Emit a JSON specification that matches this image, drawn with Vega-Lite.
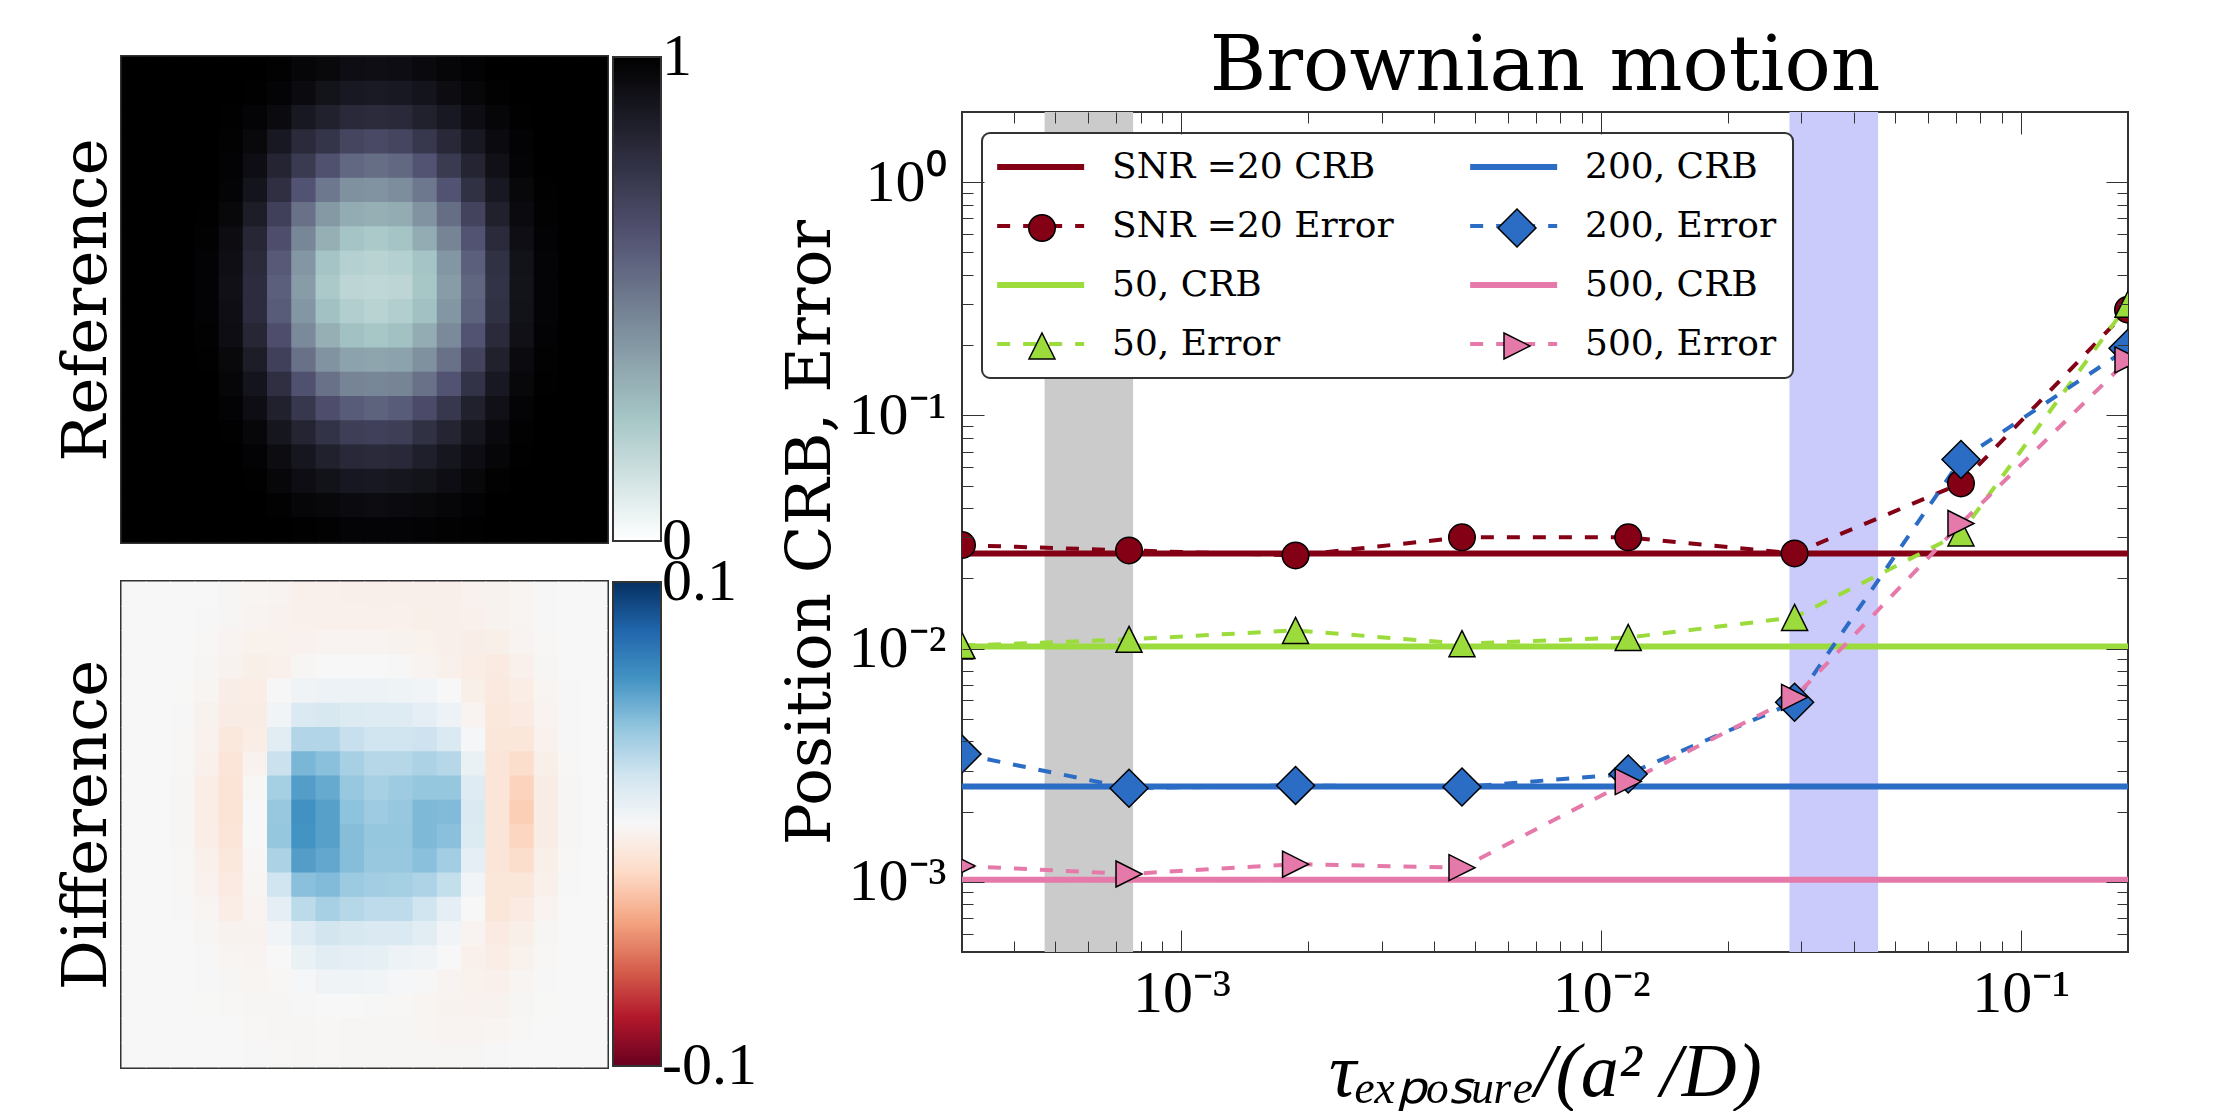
{"$schema":"https://vega.github.io/schema/vega-lite/v6.json","padding":{"left":53,"top":26,"right":0,"bottom":0},"background":"white","spacing":19,"columns":2,"align":"none","resolve":{"scale":{"fill":"independent","shape":"independent","stroke":"independent","strokeDash":"independent","strokeWidth":"independent"},"legend":{"fill":"independent","shape":"independent","stroke":"independent","strokeDash":"independent","strokeWidth":"independent"}},"config":{"legend":{"strokeWidth":2},"axis":{"labelFontWeight":"normal","titleFontWeight":"normal"},"view":{"stroke":"#333","strokeWidth":2}},"concat":[{"bounds":"flush","resolve":{"scale":{"fill":"independent"},"legend":{"fill":"independent"}},"vconcat":[
{"width":485,"height":485,"view":{"stroke":"#333","strokeWidth":4},"data":{"values":[
{"r":0,"c":0,"v":1},{"r":0,"c":1,"v":1},{"r":0,"c":2,"v":1},{"r":0,"c":3,"v":1},{"r":0,"c":4,"v":1},{"r":0,"c":5,"v":1},{"r":0,"c":6,"v":0.99},{"r":0,"c":7,"v":0.975},{"r":0,"c":8,"v":0.96},{"r":0,"c":9,"v":0.94},{"r":0,"c":10,"v":0.935},{"r":0,"c":11,"v":0.94},{"r":0,"c":12,"v":0.955},{"r":0,"c":13,"v":0.975},{"r":0,"c":14,"v":0.985},{"r":0,"c":15,"v":1},{"r":0,"c":16,"v":1},{"r":0,"c":17,"v":1},{"r":0,"c":18,"v":1},{"r":0,"c":19,"v":1},
{"r":1,"c":0,"v":1},{"r":1,"c":1,"v":1},{"r":1,"c":2,"v":1},{"r":1,"c":3,"v":1},{"r":1,"c":4,"v":1},{"r":1,"c":5,"v":0.995},{"r":1,"c":6,"v":0.98},{"r":1,"c":7,"v":0.95},{"r":1,"c":8,"v":0.915},{"r":1,"c":9,"v":0.89},{"r":1,"c":10,"v":0.885},{"r":1,"c":11,"v":0.89},{"r":1,"c":12,"v":0.91},{"r":1,"c":13,"v":0.945},{"r":1,"c":14,"v":0.97},{"r":1,"c":15,"v":0.99},{"r":1,"c":16,"v":1},{"r":1,"c":17,"v":1},{"r":1,"c":18,"v":1},{"r":1,"c":19,"v":1},
{"r":2,"c":0,"v":1},{"r":2,"c":1,"v":1},{"r":2,"c":2,"v":1},{"r":2,"c":3,"v":1},{"r":2,"c":4,"v":0.995},{"r":2,"c":5,"v":0.98},{"r":2,"c":6,"v":0.95},{"r":2,"c":7,"v":0.89},{"r":2,"c":8,"v":0.85},{"r":2,"c":9,"v":0.815},{"r":2,"c":10,"v":0.805},{"r":2,"c":11,"v":0.815},{"r":2,"c":12,"v":0.85},{"r":2,"c":13,"v":0.89},{"r":2,"c":14,"v":0.94},{"r":2,"c":15,"v":0.975},{"r":2,"c":16,"v":0.995},{"r":2,"c":17,"v":1},{"r":2,"c":18,"v":1},{"r":2,"c":19,"v":1},
{"r":3,"c":0,"v":1},{"r":3,"c":1,"v":1},{"r":3,"c":2,"v":1},{"r":3,"c":3,"v":1},{"r":3,"c":4,"v":0.99},{"r":3,"c":5,"v":0.96},{"r":3,"c":6,"v":0.89},{"r":3,"c":7,"v":0.81},{"r":3,"c":8,"v":0.76},{"r":3,"c":9,"v":0.69},{"r":3,"c":10,"v":0.67},{"r":3,"c":11,"v":0.69},{"r":3,"c":12,"v":0.75},{"r":3,"c":13,"v":0.82},{"r":3,"c":14,"v":0.89},{"r":3,"c":15,"v":0.95},{"r":3,"c":16,"v":0.985},{"r":3,"c":17,"v":1},{"r":3,"c":18,"v":1},{"r":3,"c":19,"v":1},
{"r":4,"c":0,"v":1},{"r":4,"c":1,"v":1},{"r":4,"c":2,"v":1},{"r":4,"c":3,"v":1},{"r":4,"c":4,"v":0.985},{"r":4,"c":5,"v":0.94},{"r":4,"c":6,"v":0.84},{"r":4,"c":7,"v":0.74},{"r":4,"c":8,"v":0.64},{"r":4,"c":9,"v":0.56},{"r":4,"c":10,"v":0.54},{"r":4,"c":11,"v":0.56},{"r":4,"c":12,"v":0.63},{"r":4,"c":13,"v":0.74},{"r":4,"c":14,"v":0.84},{"r":4,"c":15,"v":0.93},{"r":4,"c":16,"v":0.98},{"r":4,"c":17,"v":1},{"r":4,"c":18,"v":1},{"r":4,"c":19,"v":1},
{"r":5,"c":0,"v":1},{"r":5,"c":1,"v":1},{"r":5,"c":2,"v":1},{"r":5,"c":3,"v":1},{"r":5,"c":4,"v":0.98},{"r":5,"c":5,"v":0.91},{"r":5,"c":6,"v":0.79},{"r":5,"c":7,"v":0.63},{"r":5,"c":8,"v":0.51},{"r":5,"c":9,"v":0.43},{"r":5,"c":10,"v":0.42},{"r":5,"c":11,"v":0.44},{"r":5,"c":12,"v":0.51},{"r":5,"c":13,"v":0.63},{"r":5,"c":14,"v":0.78},{"r":5,"c":15,"v":0.89},{"r":5,"c":16,"v":0.965},{"r":5,"c":17,"v":0.995},{"r":5,"c":18,"v":1},{"r":5,"c":19,"v":1},
{"r":6,"c":0,"v":1},{"r":6,"c":1,"v":1},{"r":6,"c":2,"v":1},{"r":6,"c":3,"v":0.995},{"r":6,"c":4,"v":0.965},{"r":6,"c":5,"v":0.87},{"r":6,"c":6,"v":0.71},{"r":6,"c":7,"v":0.53},{"r":6,"c":8,"v":0.4},{"r":6,"c":9,"v":0.34},{"r":6,"c":10,"v":0.33},{"r":6,"c":11,"v":0.34},{"r":6,"c":12,"v":0.42},{"r":6,"c":13,"v":0.54},{"r":6,"c":14,"v":0.7},{"r":6,"c":15,"v":0.85},{"r":6,"c":16,"v":0.95},{"r":6,"c":17,"v":0.99},{"r":6,"c":18,"v":1},{"r":6,"c":19,"v":1},
{"r":7,"c":0,"v":1},{"r":7,"c":1,"v":1},{"r":7,"c":2,"v":1},{"r":7,"c":3,"v":0.99},{"r":7,"c":4,"v":0.945},{"r":7,"c":5,"v":0.83},{"r":7,"c":6,"v":0.65},{"r":7,"c":7,"v":0.46},{"r":7,"c":8,"v":0.33},{"r":7,"c":9,"v":0.26},{"r":7,"c":10,"v":0.24},{"r":7,"c":11,"v":0.26},{"r":7,"c":12,"v":0.34},{"r":7,"c":13,"v":0.47},{"r":7,"c":14,"v":0.63},{"r":7,"c":15,"v":0.81},{"r":7,"c":16,"v":0.935},{"r":7,"c":17,"v":0.985},{"r":7,"c":18,"v":1},{"r":7,"c":19,"v":1},
{"r":8,"c":0,"v":1},{"r":8,"c":1,"v":1},{"r":8,"c":2,"v":1},{"r":8,"c":3,"v":0.985},{"r":8,"c":4,"v":0.935},{"r":8,"c":5,"v":0.81},{"r":8,"c":6,"v":0.61},{"r":8,"c":7,"v":0.41},{"r":8,"c":8,"v":0.26},{"r":8,"c":9,"v":0.21},{"r":8,"c":10,"v":0.2},{"r":8,"c":11,"v":0.21},{"r":8,"c":12,"v":0.26},{"r":8,"c":13,"v":0.41},{"r":8,"c":14,"v":0.59},{"r":8,"c":15,"v":0.78},{"r":8,"c":16,"v":0.92},{"r":8,"c":17,"v":0.98},{"r":8,"c":18,"v":1},{"r":8,"c":19,"v":1},
{"r":9,"c":0,"v":1},{"r":9,"c":1,"v":1},{"r":9,"c":2,"v":1},{"r":9,"c":3,"v":0.985},{"r":9,"c":4,"v":0.93},{"r":9,"c":5,"v":0.8},{"r":9,"c":6,"v":0.59},{"r":9,"c":7,"v":0.39},{"r":9,"c":8,"v":0.24},{"r":9,"c":9,"v":0.185},{"r":9,"c":10,"v":0.18},{"r":9,"c":11,"v":0.185},{"r":9,"c":12,"v":0.25},{"r":9,"c":13,"v":0.39},{"r":9,"c":14,"v":0.57},{"r":9,"c":15,"v":0.77},{"r":9,"c":16,"v":0.915},{"r":9,"c":17,"v":0.98},{"r":9,"c":18,"v":1},{"r":9,"c":19,"v":1},
{"r":10,"c":0,"v":1},{"r":10,"c":1,"v":1},{"r":10,"c":2,"v":1},{"r":10,"c":3,"v":0.985},{"r":10,"c":4,"v":0.935},{"r":10,"c":5,"v":0.8},{"r":10,"c":6,"v":0.6},{"r":10,"c":7,"v":0.41},{"r":10,"c":8,"v":0.27},{"r":10,"c":9,"v":0.22},{"r":10,"c":10,"v":0.2},{"r":10,"c":11,"v":0.22},{"r":10,"c":12,"v":0.27},{"r":10,"c":13,"v":0.41},{"r":10,"c":14,"v":0.58},{"r":10,"c":15,"v":0.78},{"r":10,"c":16,"v":0.92},{"r":10,"c":17,"v":0.98},{"r":10,"c":18,"v":1},{"r":10,"c":19,"v":1},
{"r":11,"c":0,"v":1},{"r":11,"c":1,"v":1},{"r":11,"c":2,"v":1},{"r":11,"c":3,"v":0.99},{"r":11,"c":4,"v":0.94},{"r":11,"c":5,"v":0.83},{"r":11,"c":6,"v":0.65},{"r":11,"c":7,"v":0.45},{"r":11,"c":8,"v":0.33},{"r":11,"c":9,"v":0.27},{"r":11,"c":10,"v":0.25},{"r":11,"c":11,"v":0.27},{"r":11,"c":12,"v":0.34},{"r":11,"c":13,"v":0.45},{"r":11,"c":14,"v":0.63},{"r":11,"c":15,"v":0.81},{"r":11,"c":16,"v":0.93},{"r":11,"c":17,"v":0.985},{"r":11,"c":18,"v":1},{"r":11,"c":19,"v":1},
{"r":12,"c":0,"v":1},{"r":12,"c":1,"v":1},{"r":12,"c":2,"v":1},{"r":12,"c":3,"v":0.995},{"r":12,"c":4,"v":0.96},{"r":12,"c":5,"v":0.87},{"r":12,"c":6,"v":0.71},{"r":12,"c":7,"v":0.53},{"r":12,"c":8,"v":0.42},{"r":12,"c":9,"v":0.37},{"r":12,"c":10,"v":0.36},{"r":12,"c":11,"v":0.37},{"r":12,"c":12,"v":0.43},{"r":12,"c":13,"v":0.53},{"r":12,"c":14,"v":0.7},{"r":12,"c":15,"v":0.85},{"r":12,"c":16,"v":0.95},{"r":12,"c":17,"v":0.99},{"r":12,"c":18,"v":1},{"r":12,"c":19,"v":1},
{"r":13,"c":0,"v":1},{"r":13,"c":1,"v":1},{"r":13,"c":2,"v":1},{"r":13,"c":3,"v":1},{"r":13,"c":4,"v":0.975},{"r":13,"c":5,"v":0.91},{"r":13,"c":6,"v":0.79},{"r":13,"c":7,"v":0.64},{"r":13,"c":8,"v":0.53},{"r":13,"c":9,"v":0.47},{"r":13,"c":10,"v":0.46},{"r":13,"c":11,"v":0.47},{"r":13,"c":12,"v":0.53},{"r":13,"c":13,"v":0.63},{"r":13,"c":14,"v":0.77},{"r":13,"c":15,"v":0.89},{"r":13,"c":16,"v":0.965},{"r":13,"c":17,"v":0.995},{"r":13,"c":18,"v":1},{"r":13,"c":19,"v":1},
{"r":14,"c":0,"v":1},{"r":14,"c":1,"v":1},{"r":14,"c":2,"v":1},{"r":14,"c":3,"v":1},{"r":14,"c":4,"v":0.985},{"r":14,"c":5,"v":0.94},{"r":14,"c":6,"v":0.85},{"r":14,"c":7,"v":0.75},{"r":14,"c":8,"v":0.65},{"r":14,"c":9,"v":0.6},{"r":14,"c":10,"v":0.58},{"r":14,"c":11,"v":0.6},{"r":14,"c":12,"v":0.66},{"r":14,"c":13,"v":0.75},{"r":14,"c":14,"v":0.85},{"r":14,"c":15,"v":0.93},{"r":14,"c":16,"v":0.98},{"r":14,"c":17,"v":1},{"r":14,"c":18,"v":1},{"r":14,"c":19,"v":1},
{"r":15,"c":0,"v":1},{"r":15,"c":1,"v":1},{"r":15,"c":2,"v":1},{"r":15,"c":3,"v":1},{"r":15,"c":4,"v":0.995},{"r":15,"c":5,"v":0.97},{"r":15,"c":6,"v":0.9},{"r":15,"c":7,"v":0.84},{"r":15,"c":8,"v":0.77},{"r":15,"c":9,"v":0.72},{"r":15,"c":10,"v":0.71},{"r":15,"c":11,"v":0.72},{"r":15,"c":12,"v":0.78},{"r":15,"c":13,"v":0.84},{"r":15,"c":14,"v":0.9},{"r":15,"c":15,"v":0.955},{"r":15,"c":16,"v":0.99},{"r":15,"c":17,"v":1},{"r":15,"c":18,"v":1},{"r":15,"c":19,"v":1},
{"r":16,"c":0,"v":1},{"r":16,"c":1,"v":1},{"r":16,"c":2,"v":1},{"r":16,"c":3,"v":1},{"r":16,"c":4,"v":1},{"r":16,"c":5,"v":0.985},{"r":16,"c":6,"v":0.945},{"r":16,"c":7,"v":0.9},{"r":16,"c":8,"v":0.85},{"r":16,"c":9,"v":0.82},{"r":16,"c":10,"v":0.81},{"r":16,"c":11,"v":0.82},{"r":16,"c":12,"v":0.86},{"r":16,"c":13,"v":0.9},{"r":16,"c":14,"v":0.94},{"r":16,"c":15,"v":0.975},{"r":16,"c":16,"v":0.995},{"r":16,"c":17,"v":1},{"r":16,"c":18,"v":1},{"r":16,"c":19,"v":1},
{"r":17,"c":0,"v":1},{"r":17,"c":1,"v":1},{"r":17,"c":2,"v":1},{"r":17,"c":3,"v":1},{"r":17,"c":4,"v":1},{"r":17,"c":5,"v":0.995},{"r":17,"c":6,"v":0.97},{"r":17,"c":7,"v":0.94},{"r":17,"c":8,"v":0.92},{"r":17,"c":9,"v":0.895},{"r":17,"c":10,"v":0.89},{"r":17,"c":11,"v":0.9},{"r":17,"c":12,"v":0.915},{"r":17,"c":13,"v":0.94},{"r":17,"c":14,"v":0.965},{"r":17,"c":15,"v":0.99},{"r":17,"c":16,"v":1},{"r":17,"c":17,"v":1},{"r":17,"c":18,"v":1},{"r":17,"c":19,"v":1},
{"r":18,"c":0,"v":1},{"r":18,"c":1,"v":1},{"r":18,"c":2,"v":1},{"r":18,"c":3,"v":1},{"r":18,"c":4,"v":1},{"r":18,"c":5,"v":1},{"r":18,"c":6,"v":0.99},{"r":18,"c":7,"v":0.975},{"r":18,"c":8,"v":0.965},{"r":18,"c":9,"v":0.95},{"r":18,"c":10,"v":0.945},{"r":18,"c":11,"v":0.95},{"r":18,"c":12,"v":0.96},{"r":18,"c":13,"v":0.975},{"r":18,"c":14,"v":0.985},{"r":18,"c":15,"v":1},{"r":18,"c":16,"v":1},{"r":18,"c":17,"v":1},{"r":18,"c":18,"v":1},{"r":18,"c":19,"v":1},
{"r":19,"c":0,"v":1},{"r":19,"c":1,"v":1},{"r":19,"c":2,"v":1},{"r":19,"c":3,"v":1},{"r":19,"c":4,"v":1},{"r":19,"c":5,"v":1},{"r":19,"c":6,"v":1},{"r":19,"c":7,"v":0.995},{"r":19,"c":8,"v":0.99},{"r":19,"c":9,"v":0.98},{"r":19,"c":10,"v":0.98},{"r":19,"c":11,"v":0.98},{"r":19,"c":12,"v":0.985},{"r":19,"c":13,"v":0.99},{"r":19,"c":14,"v":0.995},{"r":19,"c":15,"v":1},{"r":19,"c":16,"v":1},{"r":19,"c":17,"v":1},{"r":19,"c":18,"v":1},{"r":19,"c":19,"v":1}
]},"mark":{"type":"rect","width":{"band":1.04},"height":{"band":1.04}},"encoding":{"x":{"field":"c","type":"ordinal","axis":null,"scale":{"domain":[0,1,2,3,4,5,6,7,8,9,10,11,12,13,14,15,16,17,18,19],"paddingInner":0,"paddingOuter":0}},"y":{"field":"r","type":"ordinal","scale":{"domain":[0,1,2,3,4,5,6,7,8,9,10,11,12,13,14,15,16,17,18,19],"paddingInner":0,"paddingOuter":0},"axis":{"title":"Reference","labels":false,"ticks":false,"domain":false,"titleFont":"DejaVu Serif","titleFontSize":62.5,"titleColor":"#000","titlePadding":4}},"fill":{"field":"v","type":"quantitative","scale":{"domain":[0,0.254,0.635,1],"range":["#ffffff","#a6c6c6","#515171","#000000"],"interpolate":"rgb"},"legend":{"type":"gradient","orient":"none","legendX":491,"legendY":0,"title":null,"values":[0,1],"format":"d","gradientLength":484,"gradientThickness":48,"gradientStrokeColor":"#333","gradientStrokeWidth":2,"labelFont":"Liberation Serif","labelFontSize":60,"labelColor":"#000","labelOffset":1,"labelOverlap":false,"encoding":{"labels":{"baseline":{"value":"middle"}}}}}}},
{"width":485,"height":485,"view":{"stroke":"#333","strokeWidth":4},"data":{"values":[
{"r":0,"c":0,"v":0},{"r":0,"c":1,"v":0},{"r":0,"c":2,"v":0},{"r":0,"c":3,"v":0},{"r":0,"c":4,"v":-0.0015},{"r":0,"c":5,"v":-0.002},{"r":0,"c":6,"v":-0.003},{"r":0,"c":7,"v":-0.005},{"r":0,"c":8,"v":-0.005},{"r":0,"c":9,"v":-0.0055},{"r":0,"c":10,"v":-0.0055},{"r":0,"c":11,"v":-0.0055},{"r":0,"c":12,"v":-0.0055},{"r":0,"c":13,"v":-0.0055},{"r":0,"c":14,"v":-0.004},{"r":0,"c":15,"v":-0.0035},{"r":0,"c":16,"v":-0.002},{"r":0,"c":17,"v":-0.0005},{"r":0,"c":18,"v":0},{"r":0,"c":19,"v":0},
{"r":1,"c":0,"v":0},{"r":1,"c":1,"v":0},{"r":1,"c":2,"v":0},{"r":1,"c":3,"v":-0.0005},{"r":1,"c":4,"v":-0.0015},{"r":1,"c":5,"v":-0.003},{"r":1,"c":6,"v":-0.004},{"r":1,"c":7,"v":-0.005},{"r":1,"c":8,"v":-0.005},{"r":1,"c":9,"v":-0.005},{"r":1,"c":10,"v":-0.005},{"r":1,"c":11,"v":-0.005},{"r":1,"c":12,"v":-0.006},{"r":1,"c":13,"v":-0.0055},{"r":1,"c":14,"v":-0.005},{"r":1,"c":15,"v":-0.0035},{"r":1,"c":16,"v":-0.002},{"r":1,"c":17,"v":-0.0005},{"r":1,"c":18,"v":0},{"r":1,"c":19,"v":0},
{"r":2,"c":0,"v":0},{"r":2,"c":1,"v":0},{"r":2,"c":2,"v":0},{"r":2,"c":3,"v":-0.001},{"r":2,"c":4,"v":-0.003},{"r":2,"c":5,"v":-0.0045},{"r":2,"c":6,"v":-0.0045},{"r":2,"c":7,"v":-0.004},{"r":2,"c":8,"v":-0.003},{"r":2,"c":9,"v":-0.003},{"r":2,"c":10,"v":-0.003},{"r":2,"c":11,"v":-0.0035},{"r":2,"c":12,"v":-0.0045},{"r":2,"c":13,"v":-0.0055},{"r":2,"c":14,"v":-0.0065},{"r":2,"c":15,"v":-0.006},{"r":2,"c":16,"v":-0.003},{"r":2,"c":17,"v":-0.001},{"r":2,"c":18,"v":0},{"r":2,"c":19,"v":0},
{"r":3,"c":0,"v":0},{"r":3,"c":1,"v":0},{"r":3,"c":2,"v":0},{"r":3,"c":3,"v":-0.0015},{"r":3,"c":4,"v":-0.0035},{"r":3,"c":5,"v":-0.006},{"r":3,"c":6,"v":-0.005},{"r":3,"c":7,"v":-0.0015},{"r":3,"c":8,"v":0},{"r":3,"c":9,"v":0},{"r":3,"c":10,"v":0},{"r":3,"c":11,"v":-0.0005},{"r":3,"c":12,"v":-0.003},{"r":3,"c":13,"v":-0.005},{"r":3,"c":14,"v":-0.007},{"r":3,"c":15,"v":-0.009},{"r":3,"c":16,"v":-0.005},{"r":3,"c":17,"v":-0.0015},{"r":3,"c":18,"v":0},{"r":3,"c":19,"v":0},
{"r":4,"c":0,"v":0},{"r":4,"c":1,"v":0},{"r":4,"c":2,"v":-0.0003},{"r":4,"c":3,"v":-0.002},{"r":4,"c":4,"v":-0.0065},{"r":4,"c":5,"v":-0.007},{"r":4,"c":6,"v":-0.0005},{"r":4,"c":7,"v":0.004},{"r":4,"c":8,"v":0.006},{"r":4,"c":9,"v":0.006},{"r":4,"c":10,"v":0.006},{"r":4,"c":11,"v":0.005},{"r":4,"c":12,"v":0.003},{"r":4,"c":13,"v":0},{"r":4,"c":14,"v":-0.006},{"r":4,"c":15,"v":-0.01},{"r":4,"c":16,"v":-0.007},{"r":4,"c":17,"v":-0.0025},{"r":4,"c":18,"v":-0.0005},{"r":4,"c":19,"v":0},
{"r":5,"c":0,"v":0},{"r":5,"c":1,"v":0},{"r":5,"c":2,"v":-0.0005},{"r":5,"c":3,"v":-0.0035},{"r":5,"c":4,"v":-0.008},{"r":5,"c":5,"v":-0.008},{"r":5,"c":6,"v":0.003},{"r":5,"c":7,"v":0.015},{"r":5,"c":8,"v":0.017},{"r":5,"c":9,"v":0.014},{"r":5,"c":10,"v":0.013},{"r":5,"c":11,"v":0.013},{"r":5,"c":12,"v":0.01},{"r":5,"c":13,"v":0.006},{"r":5,"c":14,"v":-0.003},{"r":5,"c":15,"v":-0.011},{"r":5,"c":16,"v":-0.009},{"r":5,"c":17,"v":-0.003},{"r":5,"c":18,"v":-0.0005},{"r":5,"c":19,"v":0},
{"r":6,"c":0,"v":0},{"r":6,"c":1,"v":0},{"r":6,"c":2,"v":-0.001},{"r":6,"c":3,"v":-0.004},{"r":6,"c":4,"v":-0.011},{"r":6,"c":5,"v":-0.007},{"r":6,"c":6,"v":0.011},{"r":6,"c":7,"v":0.03},{"r":6,"c":8,"v":0.03},{"r":6,"c":9,"v":0.023},{"r":6,"c":10,"v":0.02},{"r":6,"c":11,"v":0.02},{"r":6,"c":12,"v":0.021},{"r":6,"c":13,"v":0.015},{"r":6,"c":14,"v":0.001},{"r":6,"c":15,"v":-0.012},{"r":6,"c":16,"v":-0.012},{"r":6,"c":17,"v":-0.004},{"r":6,"c":18,"v":-0.0005},{"r":6,"c":19,"v":0},
{"r":7,"c":0,"v":0},{"r":7,"c":1,"v":0},{"r":7,"c":2,"v":-0.001},{"r":7,"c":3,"v":-0.005},{"r":7,"c":4,"v":-0.013},{"r":7,"c":5,"v":-0.004},{"r":7,"c":6,"v":0.022},{"r":7,"c":7,"v":0.046},{"r":7,"c":8,"v":0.042},{"r":7,"c":9,"v":0.033},{"r":7,"c":10,"v":0.029},{"r":7,"c":11,"v":0.029},{"r":7,"c":12,"v":0.032},{"r":7,"c":13,"v":0.029},{"r":7,"c":14,"v":0.007},{"r":7,"c":15,"v":-0.013},{"r":7,"c":16,"v":-0.018},{"r":7,"c":17,"v":-0.006},{"r":7,"c":18,"v":-0.001},{"r":7,"c":19,"v":0},
{"r":8,"c":0,"v":0},{"r":8,"c":1,"v":0},{"r":8,"c":2,"v":-0.0012},{"r":8,"c":3,"v":-0.007},{"r":8,"c":4,"v":-0.014},{"r":8,"c":5,"v":-0.001},{"r":8,"c":6,"v":0.034},{"r":8,"c":7,"v":0.056},{"r":8,"c":8,"v":0.051},{"r":8,"c":9,"v":0.038},{"r":8,"c":10,"v":0.033},{"r":8,"c":11,"v":0.036},{"r":8,"c":12,"v":0.039},{"r":8,"c":13,"v":0.039},{"r":8,"c":14,"v":0.013},{"r":8,"c":15,"v":-0.013},{"r":8,"c":16,"v":-0.023},{"r":8,"c":17,"v":-0.008},{"r":8,"c":18,"v":-0.0015},{"r":8,"c":19,"v":0},
{"r":9,"c":0,"v":0},{"r":9,"c":1,"v":0},{"r":9,"c":2,"v":-0.0012},{"r":9,"c":3,"v":-0.007},{"r":9,"c":4,"v":-0.014},{"r":9,"c":5,"v":0},{"r":9,"c":6,"v":0.038},{"r":9,"c":7,"v":0.061},{"r":9,"c":8,"v":0.055},{"r":9,"c":9,"v":0.041},{"r":9,"c":10,"v":0.036},{"r":9,"c":11,"v":0.038},{"r":9,"c":12,"v":0.045},{"r":9,"c":13,"v":0.044},{"r":9,"c":14,"v":0.015},{"r":9,"c":15,"v":-0.013},{"r":9,"c":16,"v":-0.025},{"r":9,"c":17,"v":-0.008},{"r":9,"c":18,"v":-0.0015},{"r":9,"c":19,"v":0},
{"r":10,"c":0,"v":0},{"r":10,"c":1,"v":0},{"r":10,"c":2,"v":-0.0012},{"r":10,"c":3,"v":-0.007},{"r":10,"c":4,"v":-0.013},{"r":10,"c":5,"v":0},{"r":10,"c":6,"v":0.039},{"r":10,"c":7,"v":0.06},{"r":10,"c":8,"v":0.055},{"r":10,"c":9,"v":0.043},{"r":10,"c":10,"v":0.039},{"r":10,"c":11,"v":0.039},{"r":10,"c":12,"v":0.045},{"r":10,"c":13,"v":0.042},{"r":10,"c":14,"v":0.014},{"r":10,"c":15,"v":-0.013},{"r":10,"c":16,"v":-0.022},{"r":10,"c":17,"v":-0.008},{"r":10,"c":18,"v":-0.0012},{"r":10,"c":19,"v":0},
{"r":11,"c":0,"v":0},{"r":11,"c":1,"v":0},{"r":11,"c":2,"v":-0.001},{"r":11,"c":3,"v":-0.005},{"r":11,"c":4,"v":-0.011},{"r":11,"c":5,"v":-0.001},{"r":11,"c":6,"v":0.032},{"r":11,"c":7,"v":0.056},{"r":11,"c":8,"v":0.052},{"r":11,"c":9,"v":0.043},{"r":11,"c":10,"v":0.038},{"r":11,"c":11,"v":0.038},{"r":11,"c":12,"v":0.042},{"r":11,"c":13,"v":0.035},{"r":11,"c":14,"v":0.01},{"r":11,"c":15,"v":-0.013},{"r":11,"c":16,"v":-0.018},{"r":11,"c":17,"v":-0.006},{"r":11,"c":18,"v":-0.001},{"r":11,"c":19,"v":0},
{"r":12,"c":0,"v":0},{"r":12,"c":1,"v":0},{"r":12,"c":2,"v":-0.0008},{"r":12,"c":3,"v":-0.004},{"r":12,"c":4,"v":-0.009},{"r":12,"c":5,"v":-0.002},{"r":12,"c":6,"v":0.02},{"r":12,"c":7,"v":0.042},{"r":12,"c":8,"v":0.044},{"r":12,"c":9,"v":0.037},{"r":12,"c":10,"v":0.035},{"r":12,"c":11,"v":0.034},{"r":12,"c":12,"v":0.031},{"r":12,"c":13,"v":0.024},{"r":12,"c":14,"v":0.003},{"r":12,"c":15,"v":-0.012},{"r":12,"c":16,"v":-0.012},{"r":12,"c":17,"v":-0.005},{"r":12,"c":18,"v":-0.0005},{"r":12,"c":19,"v":0},
{"r":13,"c":0,"v":0},{"r":13,"c":1,"v":0},{"r":13,"c":2,"v":-0.0005},{"r":13,"c":3,"v":-0.002},{"r":13,"c":4,"v":-0.007},{"r":13,"c":5,"v":-0.003},{"r":13,"c":6,"v":0.01},{"r":13,"c":7,"v":0.027},{"r":13,"c":8,"v":0.033},{"r":13,"c":9,"v":0.029},{"r":13,"c":10,"v":0.026},{"r":13,"c":11,"v":0.026},{"r":13,"c":12,"v":0.02},{"r":13,"c":13,"v":0.01},{"r":13,"c":14,"v":0},{"r":13,"c":15,"v":-0.012},{"r":13,"c":16,"v":-0.009},{"r":13,"c":17,"v":-0.003},{"r":13,"c":18,"v":0},{"r":13,"c":19,"v":0},
{"r":14,"c":0,"v":0},{"r":14,"c":1,"v":0},{"r":14,"c":2,"v":0},{"r":14,"c":3,"v":-0.0012},{"r":14,"c":4,"v":-0.0035},{"r":14,"c":5,"v":-0.0035},{"r":14,"c":6,"v":0.003},{"r":14,"c":7,"v":0.013},{"r":14,"c":8,"v":0.019},{"r":14,"c":9,"v":0.017},{"r":14,"c":10,"v":0.015},{"r":14,"c":11,"v":0.015},{"r":14,"c":12,"v":0.011},{"r":14,"c":13,"v":0.003},{"r":14,"c":14,"v":-0.003},{"r":14,"c":15,"v":-0.009},{"r":14,"c":16,"v":-0.006},{"r":14,"c":17,"v":-0.0015},{"r":14,"c":18,"v":0},{"r":14,"c":19,"v":0},
{"r":15,"c":0,"v":0},{"r":15,"c":1,"v":0},{"r":15,"c":2,"v":0},{"r":15,"c":3,"v":-0.0005},{"r":15,"c":4,"v":-0.0025},{"r":15,"c":5,"v":-0.003},{"r":15,"c":6,"v":0},{"r":15,"c":7,"v":0.007},{"r":15,"c":8,"v":0.011},{"r":15,"c":9,"v":0.01},{"r":15,"c":10,"v":0.009},{"r":15,"c":11,"v":0.006},{"r":15,"c":12,"v":0.004},{"r":15,"c":13,"v":0},{"r":15,"c":14,"v":-0.005},{"r":15,"c":15,"v":-0.007},{"r":15,"c":16,"v":-0.0045},{"r":15,"c":17,"v":-0.001},{"r":15,"c":18,"v":0},{"r":15,"c":19,"v":0},
{"r":16,"c":0,"v":0},{"r":16,"c":1,"v":0},{"r":16,"c":2,"v":0},{"r":16,"c":3,"v":-0.0005},{"r":16,"c":4,"v":-0.0015},{"r":16,"c":5,"v":-0.0025},{"r":16,"c":6,"v":-0.001},{"r":16,"c":7,"v":0.001},{"r":16,"c":8,"v":0.004},{"r":16,"c":9,"v":0.004},{"r":16,"c":10,"v":0.003},{"r":16,"c":11,"v":0.001},{"r":16,"c":12,"v":-0.0005},{"r":16,"c":13,"v":-0.003},{"r":16,"c":14,"v":-0.0045},{"r":16,"c":15,"v":-0.005},{"r":16,"c":16,"v":-0.0025},{"r":16,"c":17,"v":-0.0005},{"r":16,"c":18,"v":0},{"r":16,"c":19,"v":0},
{"r":17,"c":0,"v":0},{"r":17,"c":1,"v":0},{"r":17,"c":2,"v":0},{"r":17,"c":3,"v":-0.0003},{"r":17,"c":4,"v":-0.001},{"r":17,"c":5,"v":-0.0015},{"r":17,"c":6,"v":-0.0015},{"r":17,"c":7,"v":-0.0005},{"r":17,"c":8,"v":0},{"r":17,"c":9,"v":0},{"r":17,"c":10,"v":-0.0005},{"r":17,"c":11,"v":-0.001},{"r":17,"c":12,"v":-0.0025},{"r":17,"c":13,"v":-0.0035},{"r":17,"c":14,"v":-0.004},{"r":17,"c":15,"v":-0.0035},{"r":17,"c":16,"v":-0.0015},{"r":17,"c":17,"v":-0.0003},{"r":17,"c":18,"v":0},{"r":17,"c":19,"v":0},
{"r":18,"c":0,"v":0},{"r":18,"c":1,"v":0},{"r":18,"c":2,"v":0},{"r":18,"c":3,"v":0},{"r":18,"c":4,"v":0},{"r":18,"c":5,"v":-0.001},{"r":18,"c":6,"v":-0.0015},{"r":18,"c":7,"v":-0.0015},{"r":18,"c":8,"v":-0.001},{"r":18,"c":9,"v":-0.0015},{"r":18,"c":10,"v":-0.0015},{"r":18,"c":11,"v":-0.0015},{"r":18,"c":12,"v":-0.0025},{"r":18,"c":13,"v":-0.003},{"r":18,"c":14,"v":-0.003},{"r":18,"c":15,"v":-0.002},{"r":18,"c":16,"v":-0.001},{"r":18,"c":17,"v":0},{"r":18,"c":18,"v":0},{"r":18,"c":19,"v":0},
{"r":19,"c":0,"v":0},{"r":19,"c":1,"v":0},{"r":19,"c":2,"v":0},{"r":19,"c":3,"v":0},{"r":19,"c":4,"v":0},{"r":19,"c":5,"v":-0.0005},{"r":19,"c":6,"v":-0.001},{"r":19,"c":7,"v":-0.0015},{"r":19,"c":8,"v":-0.001},{"r":19,"c":9,"v":-0.0015},{"r":19,"c":10,"v":-0.0015},{"r":19,"c":11,"v":-0.0015},{"r":19,"c":12,"v":-0.0015},{"r":19,"c":13,"v":-0.0015},{"r":19,"c":14,"v":-0.0015},{"r":19,"c":15,"v":-0.0005},{"r":19,"c":16,"v":0},{"r":19,"c":17,"v":0},{"r":19,"c":18,"v":0},{"r":19,"c":19,"v":0}
]},"mark":{"type":"rect","width":{"band":1.04},"height":{"band":1.04}},"encoding":{"x":{"field":"c","type":"ordinal","axis":null,"scale":{"domain":[0,1,2,3,4,5,6,7,8,9,10,11,12,13,14,15,16,17,18,19],"paddingInner":0,"paddingOuter":0}},"y":{"field":"r","type":"ordinal","scale":{"domain":[0,1,2,3,4,5,6,7,8,9,10,11,12,13,14,15,16,17,18,19],"paddingInner":0,"paddingOuter":0},"axis":{"title":"Difference","labels":false,"ticks":false,"domain":false,"titleFont":"DejaVu Serif","titleFontSize":62.5,"titleColor":"#000","titlePadding":4}},"fill":{"field":"v","type":"quantitative","scale":{"domain":[-0.1,-0.08,-0.06,-0.04,-0.02,0,0.02,0.04,0.06,0.08,0.1],"range":["#67001f","#b2182b","#d6604d","#f4a582","#fddbc7","#f7f7f7","#d1e5f0","#92c5de","#4393c3","#2166ac","#053061"],"interpolate":"rgb"},"legend":{"type":"gradient","orient":"none","legendX":491,"legendY":0,"title":null,"values":[-0.1,0.1],"labelExpr":"datum.value<0?'-0.1':'0.1'","gradientLength":484,"gradientThickness":48,"gradientStrokeColor":"#333","gradientStrokeWidth":2,"labelFont":"Liberation Serif","labelFontSize":60,"labelColor":"#000","labelOffset":1,"labelOverlap":false,"encoding":{"labels":{"baseline":{"value":"middle"}}}}}}}
],"spacing":40},
{"bounds":"flush","spacing":54,"resolve":{"scale":{"fill":"independent","shape":"independent","stroke":"independent","strokeDash":"independent","strokeWidth":"independent"},"legend":{"fill":"independent","shape":"independent","stroke":"independent","strokeDash":"independent","strokeWidth":"independent"}},"vconcat":[
{"width":1166,"height":1,"view":{"stroke":null},"data":{"values":[]},"mark":{"type":"rect"},"encoding":{}},
{"width":1166,"height":840,"title":{"text":"Brownian motion","font":"DejaVu Serif","fontSize":77,"fontWeight":"normal","color":"#000","anchor":"middle","offset":6},"resolve":{"axis":{"x":"independent","y":"independent"}},"layer":[
{"data":{"values":[{"a":0.000472,"b":0.000767}]},"mark":{"type":"rect","color":"#cbcbcb"},"encoding":{"x":{"field":"a","type":"quantitative","scale":{"type":"log","domain":[0.0003,0.18],"nice":false},"axis":{"zindex":1,"values":[0.0004,0.0005,0.0006,0.0007,0.0008,0.0009,0.001,0.002,0.003,0.004,0.005,0.006,0.007,0.008,0.009,0.01,0.02,0.03,0.04,0.05,0.06,0.07,0.08,0.09,0.1],"tickSize":{"condition":{"test":"datum.value==0.001||datum.value==0.01||datum.value==0.1","value":-22},"value":-11},"tickColor":"#333","tickWidth":1,"domain":false,"grid":false,"labelFont":"Liberation Serif","labelFontSize":60,"labelColor":"#000","labelExpr":"datum.value==0.001?'10⁻³':datum.value==0.01?'10⁻²':datum.value==0.1?'10⁻¹':''","labelOverlap":false,"labelFlush":false,"labelPadding":34,"title":"τₑₓₚₒₛᵤᵣₑ/(a² /D)","titleFont":"Liberation Serif","titleFontStyle":"italic","titleFontSize":76,"titleColor":"#000","titlePadding":1}},"x2":{"field":"b"},"y":{"datum":0.0005,"type":"quantitative","scale":{"type":"log","domain":[0.0005,2],"nice":false},"axis":{"zindex":1,"values":[0.0006,0.0007,0.0008,0.0009,0.001,0.002,0.003,0.004,0.005,0.006,0.007,0.008,0.009,0.01,0.02,0.03,0.04,0.05,0.06,0.07,0.08,0.09,0.1,0.2,0.3,0.4,0.5,0.6,0.7,0.8,0.9,1],"tickSize":{"condition":{"test":"datum.value==0.001||datum.value==0.01||datum.value==0.1||datum.value==1","value":-22},"value":-11},"tickColor":"#333","tickWidth":1,"domain":false,"grid":false,"labelFont":"Liberation Serif","labelFontSize":60,"labelColor":"#000","labelExpr":"datum.value==0.001?'10⁻³':datum.value==0.01?'10⁻²':datum.value==0.1?'10⁻¹':datum.value==1?'10⁰':''","labelOverlap":false,"labelFlush":false,"labelPadding":38,"title":"Position CRB, Error","titleFont":"DejaVu Serif","titleFontSize":62.5,"titleColor":"#000","titlePadding":6}},"y2":{"datum":2}}},
{"data":{"values":[{"a":0.0281,"b":0.0457}]},"mark":{"type":"rect","color":"#cbcbfb"},"encoding":{"x":{"field":"a","type":"quantitative","axis":{"orient":"top","zindex":1,"values":[0.0004,0.0005,0.0006,0.0007,0.0008,0.0009,0.001,0.002,0.003,0.004,0.005,0.006,0.007,0.008,0.009,0.01,0.02,0.03,0.04,0.05,0.06,0.07,0.08,0.09,0.1],"tickSize":{"condition":{"test":"datum.value==0.001||datum.value==0.01||datum.value==0.1","value":-22},"value":-11},"tickColor":"#333","tickWidth":1,"domain":false,"grid":false,"labels":false,"title":null}},"x2":{"field":"b"},"y":{"datum":0.0005,"type":"quantitative","axis":{"orient":"right","zindex":1,"values":[0.0006,0.0007,0.0008,0.0009,0.001,0.002,0.003,0.004,0.005,0.006,0.007,0.008,0.009,0.01,0.02,0.03,0.04,0.05,0.06,0.07,0.08,0.09,0.1,0.2,0.3,0.4,0.5,0.6,0.7,0.8,0.9,1],"tickSize":{"condition":{"test":"datum.value==0.001||datum.value==0.01||datum.value==0.1||datum.value==1","value":-22},"value":-11},"tickColor":"#333","tickWidth":1,"domain":false,"grid":false,"labels":false,"title":null}},"y2":{"datum":2}}},
{"data":{"name":"curves","values":[
{"t":0.0003,"e":0.0256,"s":"SNR =20 CRB","k":"CRB","m":"c20"},{"t":0.18,"e":0.0256,"s":"SNR =20 CRB","k":"CRB","m":"c20"},
{"t":0.0003,"e":0.0278,"s":"SNR =20 Error","k":"Error","m":"20"},{"t":0.00075,"e":0.02637,"s":"SNR =20 Error","k":"Error","m":"20"},{"t":0.00187,"e":0.0251,"s":"SNR =20 Error","k":"Error","m":"20"},{"t":0.00466,"e":0.03,"s":"SNR =20 Error","k":"Error","m":"20"},{"t":0.0116,"e":0.03,"s":"SNR =20 Error","k":"Error","m":"20"},{"t":0.0289,"e":0.0256,"s":"SNR =20 Error","k":"Error","m":"20"},{"t":0.072,"e":0.0511,"s":"SNR =20 Error","k":"Error","m":"20"},{"t":0.18,"e":0.284,"s":"SNR =20 Error","k":"Error","m":"20"},
{"t":0.0003,"e":0.0102,"s":"50, CRB","k":"CRB","m":"c50"},{"t":0.18,"e":0.0102,"s":"50, CRB","k":"CRB","m":"c50"},
{"t":0.0003,"e":0.0103,"s":"50, Error","k":"Error","m":"50"},{"t":0.00075,"e":0.01096,"s":"50, Error","k":"Error","m":"50"},{"t":0.00187,"e":0.01197,"s":"50, Error","k":"Error","m":"50"},{"t":0.00466,"e":0.0105,"s":"50, Error","k":"Error","m":"50"},{"t":0.0116,"e":0.01116,"s":"50, Error","k":"Error","m":"50"},{"t":0.0289,"e":0.01361,"s":"50, Error","k":"Error","m":"50"},{"t":0.072,"e":0.0313,"s":"50, Error","k":"Error","m":"50"},{"t":0.18,"e":0.3,"s":"50, Error","k":"Error","m":"50"},
{"t":0.0003,"e":0.00256,"s":"200, CRB","k":"CRB","m":"c200"},{"t":0.18,"e":0.00256,"s":"200, CRB","k":"CRB","m":"c200"},
{"t":0.0003,"e":0.00353,"s":"200, Error","k":"Error","m":"200"},{"t":0.00075,"e":0.00252,"s":"200, Error","k":"Error","m":"200"},{"t":0.00187,"e":0.00259,"s":"200, Error","k":"Error","m":"200"},{"t":0.00466,"e":0.00255,"s":"200, Error","k":"Error","m":"200"},{"t":0.0116,"e":0.0029,"s":"200, Error","k":"Error","m":"200"},{"t":0.0289,"e":0.00589,"s":"200, Error","k":"Error","m":"200"},{"t":0.072,"e":0.0647,"s":"200, Error","k":"Error","m":"200"},{"t":0.18,"e":0.194,"s":"200, Error","k":"Error","m":"200"},
{"t":0.0003,"e":0.00102,"s":"500, CRB","k":"CRB","m":"c500"},{"t":0.18,"e":0.00102,"s":"500, CRB","k":"CRB","m":"c500"},
{"t":0.0003,"e":0.00117,"s":"500, Error","k":"Error","m":"500"},{"t":0.00075,"e":0.00108,"s":"500, Error","k":"Error","m":"500"},{"t":0.00187,"e":0.00119,"s":"500, Error","k":"Error","m":"500"},{"t":0.00466,"e":0.00115,"s":"500, Error","k":"Error","m":"500"},{"t":0.0116,"e":0.00269,"s":"500, Error","k":"Error","m":"500"},{"t":0.0289,"e":0.00618,"s":"500, Error","k":"Error","m":"500"},{"t":0.072,"e":0.0344,"s":"500, Error","k":"Error","m":"500"},{"t":0.18,"e":0.173,"s":"500, Error","k":"Error","m":"500"}
]},"mark":{"type":"line","clip":true},"encoding":{"x":{"field":"t","type":"quantitative","axis":null},"y":{"field":"e","type":"quantitative","axis":null},"detail":{"field":"s"},
"stroke":{"field":"s","type":"nominal","sort":null,"scale":{"domain":["SNR =20 CRB","SNR =20 Error","50, CRB","50, Error","200, CRB","200, Error","500, CRB","500, Error"],"range":["#840015","#840015","#9bdc3c","#9bdc3c","#2b6cc4","#2b6cc4","#e57aaa","#e57aaa"]},"legend":{"orient":"none","legendX":20,"legendY":21,"title":null,"columns":2,"direction":"vertical","symbolType":"M-1.3,0H4.7","symbolSize":841,"labelOffset":78,"labelFont":"DejaVu Serif","labelFontSize":36,"labelColor":"#000","rowPadding":23,"columnPadding":64,"padding":16,"fillColor":"white","strokeColor":"#333","cornerRadius":8,"labelLimit":500,"symbolLimit":0}},
"strokeDash":{"field":"s","type":"nominal","sort":null,"scale":{"domain":["SNR =20 CRB","SNR =20 Error","50, CRB","50, Error","200, CRB","200, Error","500, CRB","500, Error"],"range":[[1,0],[13,13],[1,0],[13,13],[1,0],[13,13],[1,0],[13,13]]}},
"strokeWidth":{"field":"s","type":"nominal","sort":null,"scale":{"type":"ordinal","domain":["SNR =20 CRB","SNR =20 Error","50, CRB","50, Error","200, CRB","200, Error","500, CRB","500, Error"],"range":[6,4,6,4,6,4,6,4]}}}},
{"data":{"name":"curves"},"transform":[{"filter":"datum.k=='Error'"}],"mark":{"type":"point","filled":true,"stroke":"black","strokeWidth":1.5,"opacity":1,"size":676,"clip":true},"encoding":{"x":{"field":"t","type":"quantitative","axis":null},"y":{"field":"e","type":"quantitative","axis":null},
"fill":{"field":"m","type":"nominal","sort":null,"scale":{"domain":["c20","20","c50","50","c200","200","c500","500"],"range":["#840015","#840015","#9bdc3c","#9bdc3c","#2b6cc4","#2b6cc4","#e57aaa","#e57aaa"]},"legend":{"orient":"none","legendX":66,"legendY":42,"title":null,"columns":2,"direction":"vertical","labelExpr":"''","labelFontSize":20,"symbolSize":676,"symbolStrokeColor":"black","symbolStrokeWidth":1.5,"symbolOpacity":1,"rowPadding":28,"columnPadding":435,"padding":0,"symbolLimit":0}},
"shape":{"field":"m","type":"nominal","sort":null,"scale":{"domain":["c20","20","c50","50","c200","200","c500","500"],"range":["M0,0","M-1.02,0A1.02,1.02,0,1,1,1.02,0A1.02,1.02,0,1,1,-1.02,0Z","M0,0","M0,-1L1,1L-1,1Z","M0,0","M0,-1.46L1.46,0L0,1.46L-1.46,0Z","M0,0","M-1,-1L1,0L-1,1Z"]}}}}
]}
]}
]}
